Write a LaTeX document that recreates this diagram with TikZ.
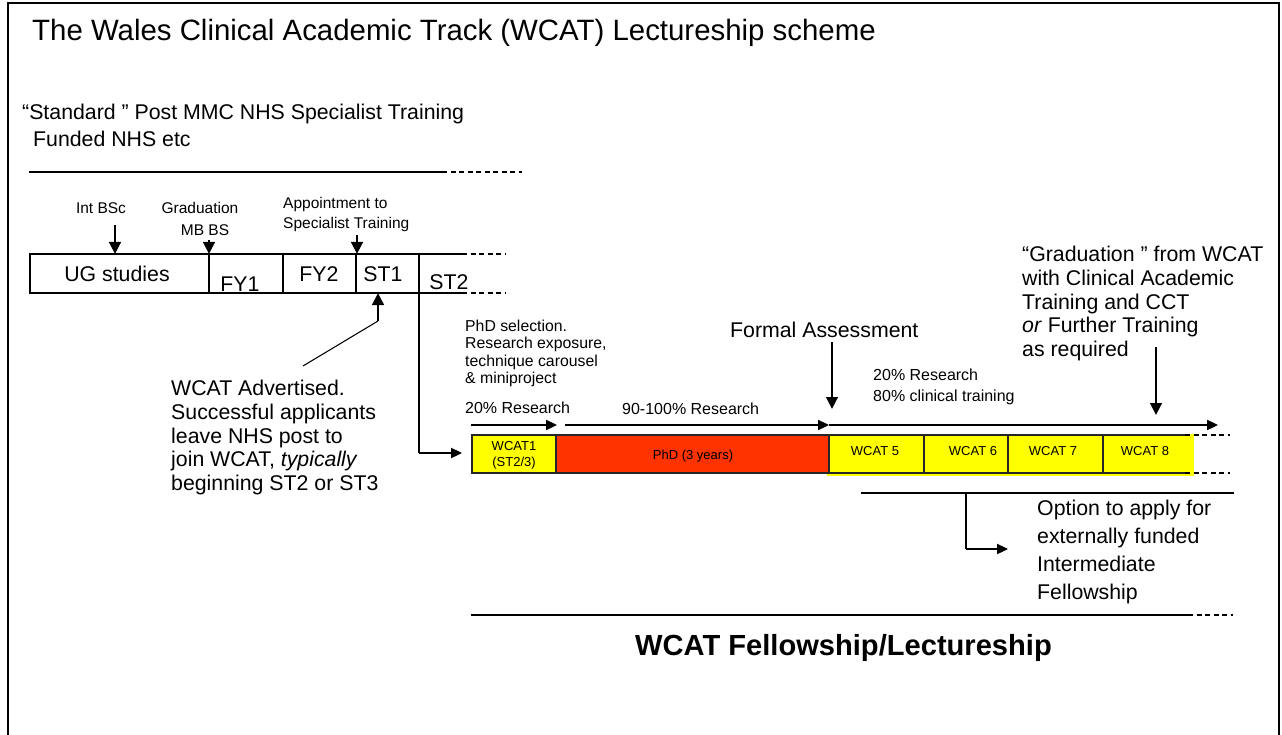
\documentclass[tikz,border=0pt]{standalone}
\usepackage{fontspec}
\setmainfont{Liberation Sans}
\usetikzlibrary{arrows.meta}
\definecolor{wyellow}{HTML}{FFFF00}
\definecolor{wred}{HTML}{FF3300}
\begin{document}
\begin{tikzpicture}[x=1pt,y=-1pt,
  every node/.style={inner sep=0pt},
  ln/.style={line width=1.1pt},
  boxln/.style={line width=1.3pt, draw=black!85},
  dashln/.style={line width=1.1pt, dash pattern=on 5pt off 3.5pt},
  arrv/.style={line width=2.7pt, -{Triangle[length=12pt,width=11.5pt]}},
  arrh/.style={line width=2.3pt, -{Triangle[length=11pt,width=10pt]}},
  f29/.style={font=\fontsize{29.4}{33}\selectfont},
  f29b/.style={font=\bfseries\fontsize{29.1}{33}\selectfont},
  f21/.style={font=\fontsize{21.3}{24}\selectfont},
  f21m/.style={font=\fontsize{21.3}{23.7}\selectfont, align=left},
  f21o/.style={font=\fontsize{21.3}{27.8}\selectfont, align=left},
  f16/.style={font=\fontsize{16}{18}\selectfont},
  f16m/.style={font=\fontsize{16}{21.7}\selectfont, align=left},
  f15/.style={font=\fontsize{15.5}{18}\selectfont},
  f15m/.style={font=\fontsize{15.8}{17.5}\selectfont, align=left},
  f13/.style={font=\fontsize{13}{15}\selectfont}
]
\useasboundingbox (0,0) rectangle (1282,735);
\fill[white] (0,0) rectangle (1282,735);
% frame
\draw[line width=2.5pt] (8,745) -- (8,3) -- (1279,3) -- (1279,745);

% title
\node[f29, anchor=base west] (title) at (32,41) {The Wales Clinical Academic Track (WCAT) Lectureship scheme};

% standard training
\node[f21, anchor=base west] (std1) at (22,120) {“Standard ” Post MMC NHS Specialist Training};
\node[f21, anchor=base west] (std2) at (33,147) {Funded NHS etc};
\draw[ln] (29,172) -- (442,172);
\draw[dashln] (442,172) -- (522,172);

% timeline boxes
\draw[ln] (462,254) -- (30,254) -- (30,293) -- (462,293);
\draw[ln] (209,254) -- (209,293);
\draw[ln] (283,254) -- (283,293);
\draw[ln] (356,254) -- (356,293);
\draw[dashln] (462,254) -- (505,254);
\draw[dashln] (462,293) -- (505,293);
\node[f21, anchor=base] (ug) at (117,282) {UG studies};
\node[f21, anchor=base] (fy1) at (240,291) {FY1};
\node[f21, anchor=base] (fy2) at (319,282) {FY2};
\node[f21, anchor=base] (st1) at (383,282) {ST1};
\node[f21, anchor=base] (st2) at (449,290) {ST2};

% labels above
\node[f15, anchor=base] (intbsc) at (101,214) {Int BSc};
\node[f15, anchor=base] (grad1) at (200,214) {Graduation};
\node[f15, anchor=base] (grad2) at (205,236) {MB BS};
\node[f15, anchor=base west] (app1) at (283,209) {Appointment to};
\node[f15, anchor=base west] (app2) at (283,229) {Specialist Training};
\coordinate (a1s) at (115,225); \coordinate (a1e) at (115,254);
\coordinate (a2s) at (209,240); \coordinate (a2e) at (209,254);
\coordinate (a3s) at (357,235); \coordinate (a3e) at (357,254);
\draw[arrv] (a1s) -- (a1e);
\draw[arrv] (a2s) -- (a2e);
\draw[arrv] (a3s) -- (a3e);

% WCAT advertised
\node[f21m, anchor=north west] (adv) at (171,380) {WCAT Advertised.\\Successful applicants\\leave NHS post to\\join WCAT, \textit{typically}\\beginning ST2 or ST3};
\coordinate (advk) at (378,321);
\coordinate (adve) at (303,366);
\coordinate (st1b) at (378,293);
\draw[ln] (adve) -- (advk);
\draw[arrv] (advk) -- (st1b);

% elbow ST2 -> WCAT1
\coordinate (div) at (419,254);
\coordinate (elb1) at (419,453);
\coordinate (w1in) at (462,453);
\draw[ln] (div) -- (elb1);
\draw[arrh] (elb1) -- (w1in);

% WCAT track boxes
\fill[wyellow] (827,434) rectangle (1194,476);
\draw[boxln, fill=wyellow] (472,435) rectangle (556,473);
\draw[boxln, fill=wred] (556,435) rectangle (829,473);
\draw[boxln] (1185,435) -- (829,435) -- (829,473) -- (1185,473);
\draw[boxln] (924,435) -- (924,473);
\draw[boxln] (1008,435) -- (1008,473);
\draw[boxln] (1103,435) -- (1103,473);
\draw[dashln] (1185,435) -- (1230,435);
\draw[dashln] (1185,473) -- (1230,473);
\node[f13, anchor=base] (w1a) at (514,450.5) {WCAT1};
\node[f13, anchor=base] (w1b) at (514,466.5) {(ST2/3)};
\node[f13, anchor=base] (phd) at (693,459) {PhD (3 years)};
\node[f13, anchor=base] (w5) at (875,455) {WCAT 5};
\node[f13, anchor=base] (w6) at (973,455) {WCAT 6};
\node[f13, anchor=base] (w7) at (1053,455) {WCAT 7};
\node[f13, anchor=base] (w8) at (1145,455) {WCAT 8};

% arrows above track
\coordinate (t1s) at (471,425); \coordinate (t1e) at (557,425);
\coordinate (t2s) at (565,425); \coordinate (t2e) at (829,425);
\coordinate (t3e) at (1218,425);
\draw[arrh] (t1s) -- (t1e);
\draw[arrh] (t2s) -- (t2e);
\draw[arrh] (t2e) -- (t3e);

\node[f16, anchor=base west] (r20) at (465,413) {20\% Research};
\node[f16, anchor=base west] (r90) at (622,414) {90-100\% Research};
\node[f15m, anchor=north west] (phdsel) at (465,319.5) {PhD selection.\\Research exposure,\\technique carousel\\\& miniproject};

\node[f21, anchor=base west] (formal) at (730,337) {Formal Assessment};
\coordinate (fas) at (832,342); \coordinate (fae) at (832,409);
\draw[arrv] (fas) -- (fae);

\node[f16m, anchor=north west] (r2080) at (873,368.5) {20\% Research\\80\% clinical training};

\node[f21m, anchor=north west] (gradw) at (1022,246) {“Graduation ” from WCAT\\with Clinical Academic\\Training and CCT\\\textit{or} Further Training\\as required};
\coordinate (gas) at (1156,347); \coordinate (gae) at (1156,415);
\draw[arrv] (gas) -- (gae);

% option
\coordinate (ol1) at (861,493); \coordinate (ol2) at (1234,493);
\coordinate (ok) at (966,493); \coordinate (oe) at (966,549); \coordinate (ot) at (1008,549);
\draw[ln] (ol1) -- (ol2);
\draw[ln] (ok) -- (oe);
\draw[arrh] (oe) -- (ot);
\node[f21o, anchor=north west] (opt) at (1037,500) {Option to apply for\\externally funded\\Intermediate\\Fellowship};

% bottom
\draw[ln] (471,615) -- (1188,615);
\draw[dashln] (1188,615) -- (1233,615);
\node[f29b, anchor=base west] (fell) at (635,655) {WCAT Fellowship/Lectureship};
\end{tikzpicture}
\end{document}
